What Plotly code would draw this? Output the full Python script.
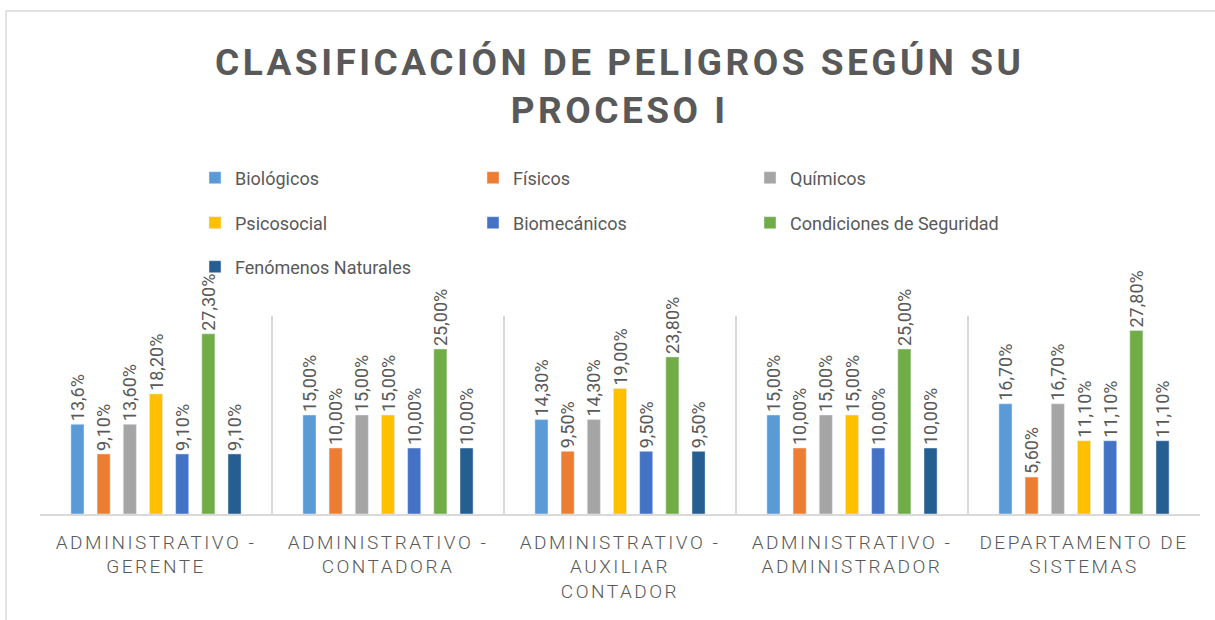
import plotly.graph_objects as go

categories = [
    "ADMINISTRATIVO -<br>GERENTE",
    "ADMINISTRATIVO -<br>CONTADORA",
    "ADMINISTRATIVO -<br>AUXILIAR<br>CONTADOR",
    "ADMINISTRATIVO -<br>ADMINISTRADOR",
    "DEPARTAMENTO DE<br>SISTEMAS",
]
series_names = ["Biológicos", "Físicos", "Químicos", "Psicosocial",
                "Biomecánicos", "Condiciones de Seguridad", "Fenómenos Naturales"]
colors = ["#5B9BD5", "#ED7D31", "#A5A5A5", "#FFC000", "#4472C4", "#70AD47", "#255E91"]

biologicos = [13.6, 15.0, 14.3, 15.0, 16.7]
fisicos = [9.1, 10.0, 9.5, 10.0, 5.6]
quimicos = [13.6, 15.0, 14.3, 15.0, 16.7]
psicosocial = [18.2, 15.0, 19.0, 15.0, 11.1]
biomecanicos = [9.1, 10.0, 9.5, 10.0, 11.1]
condiciones = [27.3, 25.0, 23.8, 25.0, 27.8]
fenomenos = [9.1, 10.0, 9.5, 10.0, 11.1]

lbl_biologicos = ["13,6%", "15,00%", "14,30%", "15,00%", "16,70%"]
lbl_fisicos = ["9,10%", "10,00%", "9,50%", "10,00%", "5,60%"]
lbl_quimicos = ["13,60%", "15,00%", "14,30%", "15,00%", "16,70%"]
lbl_psicosocial = ["18,20%", "15,00%", "19,00%", "15,00%", "11,10%"]
lbl_biomecanicos = ["9,10%", "10,00%", "9,50%", "10,00%", "11,10%"]
lbl_condiciones = ["27,30%", "25,00%", "23,80%", "25,00%", "27,80%"]
lbl_fenomenos = ["9,10%", "10,00%", "9,50%", "10,00%", "11,10%"]

values = [biologicos, fisicos, quimicos, psicosocial, biomecanicos, condiciones, fenomenos]
labels = [lbl_biologicos, lbl_fisicos, lbl_quimicos, lbl_psicosocial,
          lbl_biomecanicos, lbl_condiciones, lbl_fenomenos]

GRAY = "#595959"
LINE = "#d9d9d9"
FONT = "Roboto, 'Open Sans', sans-serif"

W, H = 1215, 620
ML, MR, MT, MB = 40, 15, 316, 106
PW, PH = W - ML - MR, H - MT - MB

def px_x(x):
    return (x - ML) / PW

def px_y(y):
    return (H - MB - y) / PH

# legend item positions (pixel), 3 columns x 3 rows like the reference
legend_cols = [195, 473, 750]
legend_rows = [178, 223, 267]

fig = go.Figure()
legend_layouts = {}
for i, (name, vals, lbl, col) in enumerate(zip(series_names, values, labels, colors)):
    lname = "legend" if i == 0 else f"legend{i+1}"
    fig.add_trace(go.Bar(
        x=categories, y=vals, name=name, marker_color=col,
        text=lbl, textposition="outside", textangle=-90,
        constraintext="none", cliponaxis=False,
        textfont=dict(family=FONT, size=18, color=GRAY),
        legend=lname, showlegend=True,
    ))
    r, c = divmod(i, 3)
    legend_layouts[lname] = dict(
        x=px_x(legend_cols[c]), y=px_y(legend_rows[r]),
        xanchor="left", yanchor="middle",
        orientation="h", bgcolor="rgba(0,0,0,0)",
        font=dict(family=FONT, size=18, color=GRAY),
        itemwidth=30,
    )

fig.update_layout(
    width=W, height=H,
    showlegend=True,
    margin=dict(l=ML, r=MR, t=MT, b=MB),
    paper_bgcolor="white", plot_bgcolor="white",
    barmode="group", bargap=0.21, bargroupgap=0.5,
    title=dict(
        text="CLASIFICACIÓN DE PELIGROS SEGÚN SU<br>PROCESO I",
        x=0.51, xanchor="center", y=1 - 75 / H, yanchor="middle",
        font=dict(family=FONT, size=37, color=GRAY, weight="bold"),
    ),
    xaxis=dict(
        tickson="boundaries", ticks="inside", ticklen=PH, tickcolor=LINE, tickwidth=1.5,
        showgrid=False, showline=True, linecolor=LINE, linewidth=1.5,
        tickfont=dict(family=FONT, size=19, color=GRAY, weight=300),
        ticklabelstandoff=10,
    ),
    yaxis=dict(range=[0, 30], visible=False, showgrid=False, zeroline=False),
    shapes=[dict(
        type="rect", xref="paper", yref="paper",
        x0=px_x(6), x1=px_x(1260), y0=px_y(700), y1=px_y(11),
        line=dict(color=LINE, width=1.5), fillcolor="rgba(0,0,0,0)", layer="below",
    )],
    **legend_layouts,
)

js = """
document.body.style.margin = '0';
document.body.style.padding = '0';
var gd = document.getElementById('{plot_id}');
function ls(){
  gd.querySelectorAll('.xtick text').forEach(function(t){ t.style.letterSpacing='2.5px'; });
  gd.querySelectorAll('.gtitle').forEach(function(t){ t.style.letterSpacing='3.5px'; });
}
ls();
if (gd.on) { gd.on('plotly_afterplot', ls); }
"""
fig.write_html("out.html", post_script=js, config={"displayModeBar": False})
